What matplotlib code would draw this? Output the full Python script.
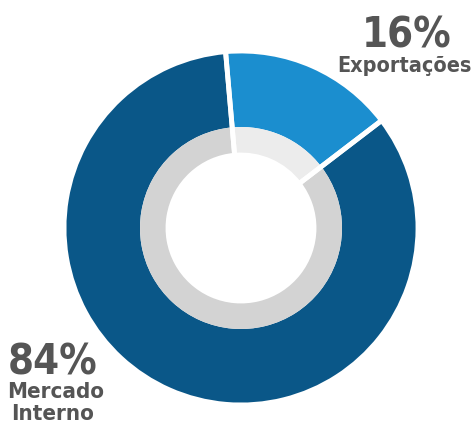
import matplotlib.pyplot as plt

labels = ['Exportações', 'Mercado Interno']
shares = [16, 84]
outer_colors = ['#1b8ecf', '#0a5788']
inner_colors = ['#ececec', '#d3d3d3']

plt.rcParams['font.family'] = ['DejaVu Sans']
plt.rcParams['font.stretch'] = 'condensed'
plt.rcParams['font.weight'] = 'bold'

H = 423
fig = plt.figure(figsize=(4.75, 4.23), dpi=100)
ax = fig.add_axes([0, 0, 1, 1])

cx, cy = 241, H - 228
# outer ring, inner ring, then white separators through both
ax.pie(shares, colors=outer_colors, startangle=95, counterclock=False,
       center=(cx, cy), radius=177, frame=True,
       wedgeprops=dict(width=76, linewidth=0))
ax.pie(shares, colors=inner_colors, startangle=95, counterclock=False,
       center=(cx, cy), radius=101, frame=True,
       wedgeprops=dict(width=28, linewidth=0))
ax.pie(shares, colors=['none', 'none'], startangle=95, counterclock=False,
       center=(cx, cy), radius=177, frame=True,
       wedgeprops=dict(width=104, edgecolor='white', linewidth=3.5))
ax.set_xlim(0, 475)
ax.set_ylim(0, H)
ax.set_aspect('equal')
ax.axis('off')

txt = '#555555'
ax.text(407, H - 47, f'{shares[0]}%', ha='center', va='baseline',
        fontsize=30, color=txt)
ax.text(404, H - 72, labels[0], ha='center', va='baseline',
        fontsize=15.5, color=txt)
ax.text(53, H - 374, f'{shares[1]}%', ha='center', va='baseline',
        fontsize=30, color=txt)
ax.text(56, H - 398, 'Mercado', ha='center', va='baseline',
        fontsize=16, color=txt)
ax.text(53, H - 420, 'Interno', ha='center', va='baseline',
        fontsize=16, color=txt)

fig.savefig('out.png', dpi=100)
